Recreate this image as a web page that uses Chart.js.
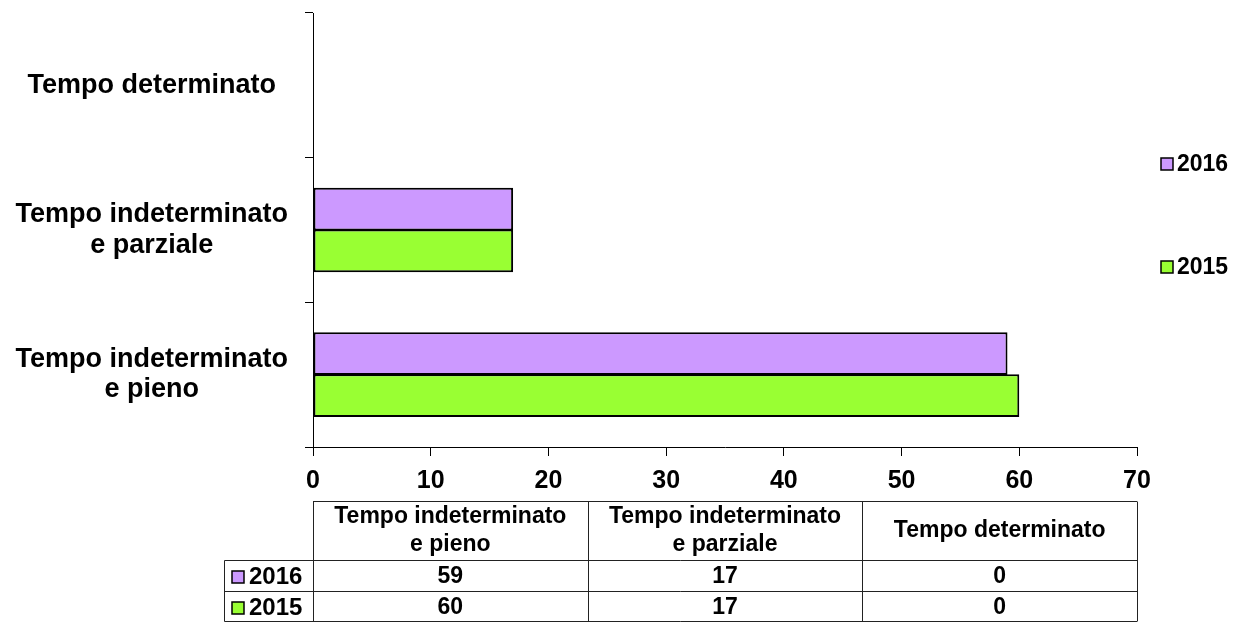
<!DOCTYPE html>
<html>
<head>
<meta charset="utf-8">
<script src="https://cdn.jsdelivr.net/npm/chart.js@4.4.1/dist/chart.umd.min.js"></script>
<style>
  html, body { margin: 0; padding: 0; background: #fff; }
  canvas { display: block; }
</style>
</head>
<body>
<canvas id="contractChart" width="1233" height="623"></canvas>
<script>
// Contract types, in the same order as the table columns
var categories = [
    ["Tempo indeterminato", "e pieno"],
    ["Tempo indeterminato", "e parziale"],
    ["Tempo determinato"]
];
var years = ["2016", "2015"];
var values2016 = [59, 17, 0];
var values2015 = [60, 17, 0];
var xTicks = [0, 10, 20, 30, 40, 50, 60, 70];
var yearColors = ["#CC99FF", "#99FF33"];

(function () {
    "use strict";

    var FONT = "'Liberation Sans', Arial, sans-serif";
    var seriesValues = [values2016, values2015];

    // the bar chart lists categories top to bottom, so flip the table order
    var chartLabels = categories.slice().reverse();
    var datasets = years.map(function (y, i) {
        return {
            label: y,
            data: seriesValues[i].slice().reverse(),
            backgroundColor: yearColors[i],
            borderColor: "#000",
            borderWidth: 2,
            borderSkipped: false,
            barPercentage: 1.02,
            categoryPercentage: 0.58
        };
    });

    function key(ctx, x, y, color) {
        ctx.fillStyle = color;
        ctx.fillRect(x, y - 6, 12, 12);
        ctx.strokeStyle = "#000";
        ctx.lineWidth = 1.5;
        ctx.strokeRect(x, y - 6, 12, 12);
    }

    // ---------- Legend on the right + data table under the axis ----------
    var tablePlugin = {
        id: "dataTable",
        afterDraw: function (chart) {
            var ctx = chart.ctx;
            var area = chart.chartArea;
            var colW = (area.right - area.left) / categories.length;
            var headTop = 501.5, headBottom = 560.5;
            var rowTops = [560.5, 591.5];
            var rowH = 31;
            var bottom = 621.5;
            var keyLeft = 224.5;

            ctx.save();
            ctx.strokeStyle = "#222";
            ctx.lineWidth = 1;

            // grid
            ctx.beginPath();
            ctx.moveTo(area.left, headTop);
            ctx.lineTo(area.right, headTop);
            ctx.moveTo(keyLeft, headBottom);
            ctx.lineTo(area.right, headBottom);
            ctx.moveTo(keyLeft, rowTops[1]);
            ctx.lineTo(area.right, rowTops[1]);
            ctx.moveTo(keyLeft, bottom);
            ctx.lineTo(area.right, bottom);
            ctx.moveTo(keyLeft, headBottom);
            ctx.lineTo(keyLeft, bottom);
            for (var c = 0; c <= categories.length; c++) {
                var gx = Math.round(area.left + c * colW) + 0.5;
                ctx.moveTo(gx, headTop);
                ctx.lineTo(gx, bottom);
            }
            ctx.stroke();

            ctx.fillStyle = "#000";
            ctx.textAlign = "center";
            ctx.textBaseline = "middle";

            // header cells
            ctx.font = "bold 23px " + FONT;
            categories.forEach(function (lines, i) {
                var cx = area.left + (i + 0.5) * colW;
                var cy = (headTop + headBottom) / 2;
                var lh = 28;
                lines.forEach(function (t, k) {
                    ctx.fillText(t, cx, cy + (k - (lines.length - 1) / 2) * lh);
                });
            });

            // value rows with legend keys
            years.forEach(function (y, r) {
                var cy = rowTops[r] + rowH / 2 + 1;
                ctx.font = "bold 23px " + FONT;
                ctx.textAlign = "center";
                ctx.fillStyle = "#000";
                seriesValues[r].forEach(function (v, i) {
                    ctx.fillText(String(v), area.left + (i + 0.5) * colW, cy);
                });
                key(ctx, 232, cy, yearColors[r]);
                ctx.fillStyle = "#000";
                ctx.textAlign = "left";
                ctx.font = "bold 24px " + FONT;
                ctx.fillText(y, 249, cy);
            });

            // legend at the right of the plot
            var legendY = [164, 267];
            ctx.font = "bold 23px " + FONT;
            ctx.textAlign = "left";
            years.forEach(function (y, r) {
                key(ctx, 1161, legendY[r], yearColors[r]);
                ctx.fillStyle = "#000";
                ctx.fillText(y, 1177, legendY[r] + 1);
            });
            ctx.restore();
        }
    };

    new Chart(document.getElementById("contractChart"), {
        type: "bar",
        data: { labels: chartLabels, datasets: datasets },
        options: {
            indexAxis: "y",
            responsive: false,
            animation: false,
            devicePixelRatio: 1,
            layout: { padding: { top: 13, right: 96, left: 0, bottom: 0 } },
            plugins: {
                legend: { display: false },
                tooltip: { enabled: false }
            },
            scales: {
                x: {
                    min: xTicks[0],
                    max: xTicks[xTicks.length - 1],
                    afterBuildTicks: function (scale) {
                        scale.ticks = xTicks.map(function (v) { return { value: v }; });
                    },
                    afterFit: function (scale) {
                        scale.height = 176;
                        scale.paddingLeft = 0;
                        scale.paddingRight = 0;
                    },
                    border: { color: "#000", width: 1 },
                    grid: {
                        drawOnChartArea: false,
                        drawTicks: true,
                        tickLength: 9,
                        color: "#000"
                    },
                    ticks: {
                        color: "#000",
                        padding: 10,
                        maxRotation: 0,
                        font: { family: FONT, size: 25, weight: "bold" }
                    }
                },
                y: {
                    afterFit: function (scale) {
                        scale.width = 313;
                        scale.paddingTop = 0;
                        scale.paddingBottom = 0;
                    },
                    border: { color: "#000", width: 1 },
                    grid: {
                        offset: true,
                        drawOnChartArea: false,
                        drawTicks: true,
                        tickLength: 8,
                        color: "#000"
                    },
                    ticks: {
                        color: "#000",
                        crossAlign: "center",
                        padding: 17,
                        font: { family: FONT, size: 27, weight: "bold", lineHeight: 1.12 }
                    }
                }
            }
        },
        plugins: [tablePlugin]
    });
})();
</script>
</body>
</html>
